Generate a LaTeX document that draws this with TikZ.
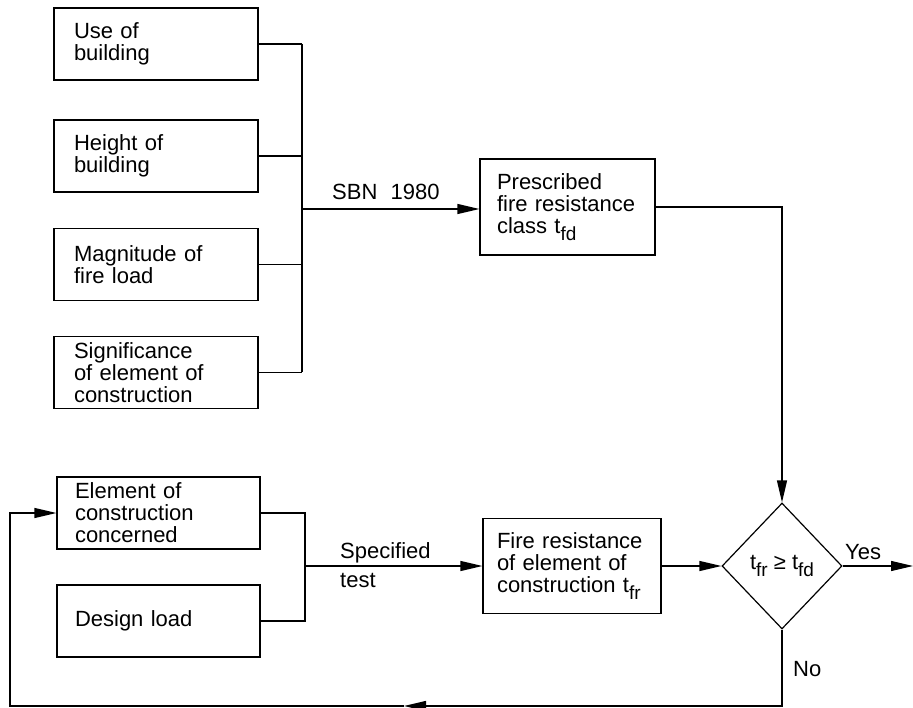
\documentclass[tikz,border=0pt]{standalone}
\usepackage{fontspec}
\setmainfont{Liberation Sans}
\usetikzlibrary{arrows.meta,shapes.geometric}
\newcommand{\lowidx}[1]{\raisebox{-0.32em}{\fontsize{19}{19}\selectfont #1}}
\tikzset{
  box/.style={draw, line width=1.2pt, text width=164pt, inner xsep=20pt, inner ysep=2pt,
              minimum height=72pt, align=left, font=\fontsize{22}{22}\selectfont},
  test/.style={draw, shape=diamond, line width=1.2pt, inner sep=0pt,
               minimum width=120pt, minimum height=126pt, font=\fontsize{22}{22}\selectfont},
  lbl/.style={inner sep=0pt, font=\fontsize{22}{22}\selectfont},
  wire/.style={line width=1.2pt},
  flow/.style={line width=1.2pt, -{Triangle[length=22pt,width=10pt]}}
}
\begin{document}
\begin{tikzpicture}[x=1pt,y=-1pt]
        \useasboundingbox (0,0) rectangle (913,708);
        % boxes for the prescribed class
        \node[box] (use)    at (156,44)    {Use of\\building};
        \node[box] (height) at (156,156)   {Height of\\building};
        \node[box] (load)   at (156,264.5) {Magnitude of\\fire load};
        \node[box] (signif) at (156,372.5) {Significance\\of element of\\construction};
        \node[box, text width=141pt, inner xsep=17pt, minimum height=96pt] (presc) at (567.5,207)
              {Prescribed\\fire resistance\\class t\lowidx{fd}};
        % boxes for the tested element
        \node[box, text width=167pt, inner xsep=18pt] (elem)   at (158.5,513) {Element of\\construction\\concerned};
        \node[box, text width=167pt, inner xsep=18pt] (design) at (158.5,621) {Design load};
        \node[box, text width=150pt, inner xsep=14pt, minimum height=95pt] (fire) at (572,566)
              {Fire resistance\\of element of\\construction t\lowidx{fr}};
        % the check
        \node[test] (check) at (782,566) {t\lowidx{fr} ≥ t\lowidx{fd}};
        % coordinates for the connectors
        \coordinate (topbus)     at (302,209);
        \coordinate (botbus)     at (305,566);
        \coordinate (yesend)     at (913,566);
        \coordinate (nocorner)   at (782,706);
        \coordinate (backmid)    at (404,706);
        \coordinate (leftcorner) at (10,706);
        % upper connectors
        \draw[wire] (use.east)    -- (use.east -| topbus);
        \draw[wire] (height.east) -- (height.east -| topbus);
        \draw[wire] (load.east)   -- (load.east -| topbus);
        \draw[wire] (signif.east) -- (signif.east -| topbus);
        \draw[wire] (use.east -| topbus) -- (signif.east -| topbus);
        \draw[flow] (topbus) -- (presc.west |- topbus);
        \draw[flow] (presc.east) -| (check.north);
        % lower connectors
        \draw[wire] (elem.east) -- (elem.east -| botbus) -- (design.east -| botbus) -- (design.east);
        \draw[flow] (botbus) -- (fire.west);
        \draw[flow] (fire.east) -- (check.west);
        \draw[flow] (check.east) -- (yesend);
        \draw[flow] (check.south) -- (nocorner) -- (backmid);
        \draw[flow] (backmid) -- (leftcorner) |- (elem.west);
        % labels
        \node[lbl, anchor=base west] (sbn)  at (332,200) {SBN\hspace{0.6em}1980};
        \node[lbl, anchor=base west] (spec) at (340,558) {Specified};
        \node[lbl, anchor=base west] (tst)  at (340,587) {test};
        \node[lbl, anchor=base west] (yes)  at (845,559) {Yes};
        \node[lbl, anchor=base west] (no)   at (793,676) {No};
\end{tikzpicture}
\end{document}
